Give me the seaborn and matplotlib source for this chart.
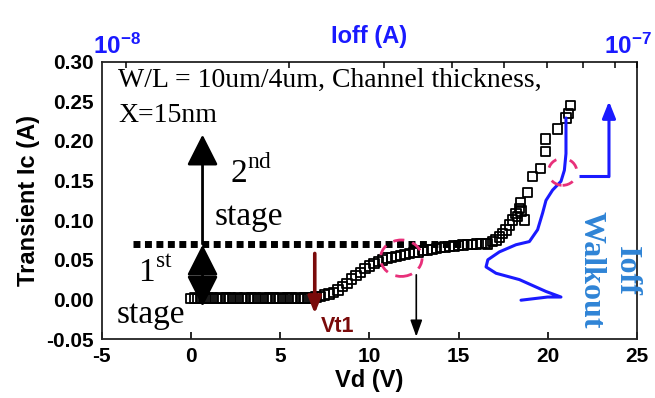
import numpy as np
import pandas as pd
import matplotlib
matplotlib.use("Agg")
import matplotlib.pyplot as plt
import matplotlib.transforms as mtransforms
import seaborn as sns
from matplotlib.patches import Ellipse
from matplotlib.ticker import LogLocator, NullFormatter

# ---------------- data ----------------
vd = [0.0, 0.2, 0.4, 0.6, 0.8, 1.0, 1.2, 1.4, 1.6, 1.8, 2.0, 2.2, 2.4, 2.6, 2.8,
      3.0, 3.2, 3.4, 3.6, 3.8, 4.0, 4.2, 4.4, 4.6, 4.8, 5.0, 5.2, 5.4, 5.6, 5.8,
      6.0, 6.2, 6.4, 6.6, 6.8,
      7.0, 7.25, 7.5, 7.75, 8.0, 8.25, 8.5, 8.75, 9.0, 9.25, 9.5, 9.75,
      10.0, 10.25, 10.5, 10.75, 11.0, 11.25, 11.5, 11.75, 12.0, 12.25, 12.5, 12.75,
      13.0, 13.25, 13.5, 13.75, 14.0, 14.25, 14.5, 14.75, 15.0, 15.25, 15.5, 15.75,
      16.0, 16.25, 16.5,
      16.63, 16.91, 17.1, 17.29, 17.47, 17.66, 17.85, 18.03, 18.22, 18.31, 18.41,
      18.5, 18.69, 18.46, 18.87, 19.15, 19.58, 19.86, 19.86, 20.55, 21.02, 21.17, 21.27]
ic = [0.001, 0.002, 0.001, 0.002, 0.001, 0.002, 0.002, 0.001, 0.002, 0.001, 0.002, 0.002, 0.001, 0.002, 0.001,
      0.002, 0.001, 0.002, 0.002, 0.001, 0.002, 0.001, 0.002, 0.002, 0.001, 0.002, 0.001, 0.002, 0.002, 0.001,
      0.002, 0.001, 0.002, 0.002, 0.002,
      0.003, 0.004, 0.0055, 0.007, 0.009, 0.012, 0.016, 0.020, 0.026, 0.030, 0.034, 0.039,
      0.042, 0.045, 0.048, 0.050, 0.052, 0.053, 0.054, 0.0555, 0.057, 0.058, 0.059, 0.060,
      0.0615, 0.0625, 0.0633, 0.0645, 0.0655, 0.066, 0.0668, 0.0675, 0.068, 0.0685, 0.069, 0.0695,
      0.070, 0.0705, 0.0705,
      0.070, 0.073, 0.075, 0.079, 0.0835, 0.0876, 0.094, 0.100, 0.1087, 0.1044, 0.115,
      0.1116, 0.100, 0.1226, 0.135, 0.155, 0.1655, 0.187, 0.2025, 0.215, 0.229, 0.235, 0.2446]

# hand-drawn Ioff walkout curve (in Vd / Ic data space)
ioff_vd = [18.50, 19.99, 20.74, 19.90, 18.41, 17.10, 16.54, 16.64, 17.29, 18.22, 18.97,
           19.43, 19.71, 19.90, 20.27, 20.74, 20.93, 21.02, 21.02, 21.02]
ioff_ic = [-0.001, 0.003, 0.003, 0.010, 0.025, 0.033, 0.041, 0.050, 0.060, 0.069, 0.073,
           0.088, 0.109, 0.125, 0.138, 0.149, 0.163, 0.184, 0.218, 0.229]

xticks = [-5, 0, 5, 10, 15, 20, 25]
xtick_labels = ["-5", "0", "5", "10", "15", "20", "25"]
yticks = [-0.05, 0.00, 0.05, 0.10, 0.15, 0.20, 0.25, 0.30]
ytick_labels = ["-0.05", "0.00", "0.05", "0.10", "0.15", "0.20", "0.25", "0.30"]
top_xlim = (10 ** -8.045, 10 ** -7.0555)
top_ticks = [1e-8, 10 ** -7.0555]
top_tick_labels = [r"$\mathbf{10^{-8}}$", r"$\mathbf{10^{-7}}$"]

# ---------------- style ----------------
sns.set_theme(style="white")
plt.rcParams["font.family"] = ["Liberation Sans", "DejaVu Sans"]
plt.rcParams["mathtext.fontset"] = "custom"
plt.rcParams["mathtext.rm"] = "Liberation Serif"
plt.rcParams["mathtext.bf"] = "Liberation Sans:bold"
plt.rcParams["axes.unicode_minus"] = False
for k in ["text.color", "axes.labelcolor", "xtick.color", "ytick.color"]:
    plt.rcParams[k] = "black"

BLUE = "#1a1aff"
LBLUE = "#2f84d6"
DRED = "#7a0a0a"
PINK = "#e8307a"
SERIF = ["Liberation Serif", "DejaVu Serif"]

fig = plt.figure(figsize=(6.55, 3.98), dpi=100)
ax = fig.add_axes([0.1553, 0.1482, 0.8172, 0.6967])

df = pd.DataFrame({"Vd": vd, "Ic": ic})
sns.scatterplot(data=df, x="Vd", y="Ic", ax=ax, marker="s", s=46,
                facecolor="none", edgecolor="black", linewidth=1.3, zorder=3)

curve = pd.DataFrame({"Vd": ioff_vd, "Ic": ioff_ic})
sns.lineplot(data=curve, x="Vd", y="Ic", ax=ax, sort=False, estimator=None,
             color=BLUE, lw=2.2, zorder=5)

ax.set_xlim(-5, 25)
ax.set_ylim(-0.05, 0.30)
ax.set_xticks(xticks, xtick_labels)
ax.set_yticks(yticks, ytick_labels)
ax.tick_params(axis="both", direction="in", length=5, width=1.2, pad=6,
               labelsize=15, colors="black")
for lab in ax.get_xticklabels() + ax.get_yticklabels():
    lab.set_fontweight("bold")
ax.set_xlabel("Vd (V)", fontsize=17, fontweight="bold", labelpad=2)
ax.set_ylabel("Transient Ic (A)", fontsize=17, fontweight="bold", labelpad=4)
for sp in ax.spines.values():
    sp.set_linewidth(1.3)
    sp.set_color("#222222")

# top log axis
ax2 = ax.twiny()
ax2.set_xscale("log")
ax2.set_xlim(*top_xlim)
ax2.set_xticks(top_ticks, top_tick_labels)
ax2.xaxis.set_minor_locator(LogLocator(base=10, subs=np.arange(2, 10)))
ax2.xaxis.set_minor_formatter(NullFormatter())
ax2.tick_params(axis="x", which="both", direction="in", length=4, width=1.1,
                labelsize=17.5, labelcolor=BLUE, pad=2)
ax2.set_xlabel("Ioff (A)", fontsize=17, fontweight="bold", color=BLUE, labelpad=-7)
for sp in ax2.spines.values():
    sp.set_visible(False)
# nudge the end labels (10^-7 kept inside the canvas)
lbls = ax2.get_xticklabels()
lbls[-1].set_transform(lbls[-1].get_transform() +
                       mtransforms.ScaledTranslation(-9 / 100, 0, fig.dpi_scale_trans))
lbls[0].set_transform(lbls[0].get_transform() +
                      mtransforms.ScaledTranslation(-9 / 100, 0, fig.dpi_scale_trans))

# dotted stage boundary
ax.plot([-3.24, 15.6], [0.070, 0.070], color="black", lw=5,
        linestyle=(0, (1, 0.65)), zorder=2)

# stage arrows
ax.annotate("", xy=(0.65, 0.208), xytext=(0.65, 0.070),
            arrowprops=dict(arrowstyle="-|>,head_length=0.95,head_width=0.48",
                            color="black", lw=2, shrinkA=0, shrinkB=0,
                            mutation_scale=20), zorder=6)
ax.annotate("", xy=(0.65, -0.009), xytext=(0.65, 0.069),
            arrowprops=dict(arrowstyle="<|-|>,head_length=0.95,head_width=0.48",
                            color="black", lw=2, shrinkA=0, shrinkB=0,
                            mutation_scale=20), zorder=6)

# Vt1 arrow
ax.annotate("", xy=(6.94, -0.018), xytext=(6.94, 0.058),
            arrowprops=dict(arrowstyle="-|>,head_length=0.5,head_width=0.2",
                            color=DRED, lw=2.6, shrinkA=0, shrinkB=0,
                            mutation_scale=20), zorder=6)
ax.text(7.3, -0.034, "Vt1", color=DRED, fontsize=15.5, fontweight="bold",
        ha="left", va="center")

# thin black arrow
ax.annotate("", xy=(12.63, -0.047), xytext=(12.63, 0.031),
            arrowprops=dict(arrowstyle="-|>,head_length=0.5,head_width=0.18",
                            color="black", lw=1.2, shrinkA=0, shrinkB=0,
                            mutation_scale=20), zorder=6)

# blue bent arrow
ax.plot([21.77, 23.43], [0.156, 0.156], color=BLUE, lw=2.2, solid_capstyle="butt")
ax.annotate("", xy=(23.43, 0.250), xytext=(23.43, 0.155),
            arrowprops=dict(arrowstyle="-|>,head_length=0.5,head_width=0.2",
                            color=BLUE, lw=2.2, shrinkA=0, shrinkB=0,
                            mutation_scale=20))

# dashed ellipses
ax.add_patch(Ellipse((20.83, 0.161), 1.6, 0.034, fill=False, edgecolor=PINK,
                     lw=2, linestyle=(0, (4, 5)), zorder=6))
ax.add_patch(Ellipse((11.79, 0.052), 2.33, 0.046, angle=0, fill=False, edgecolor=PINK,
                     lw=2, linestyle=(0, (4, 3)), zorder=6))

# texts
ax.text(-4.09, 0.268, "W/L = 10um/4um, Channel thickness,", family=SERIF,
        fontsize=20, ha="left", va="baseline")
ax.text(-4.09, 0.2245, "X=15nm", family=SERIF, fontsize=20, ha="left", va="baseline")
ax.text(2.18, 0.1466, r"2$^{\mathrm{nd}}$", family=SERIF, fontsize=24,
        ha="left", va="baseline")
ax.text(1.34, 0.094, "stage", family=SERIF, fontsize=24, ha="left", va="baseline")
ax.text(-2.96, 0.0224, r"1$^{\mathrm{st}}$", family=SERIF, fontsize=24,
        ha="left", va="baseline")
ax.text(-4.16, -0.030, "stage", family=SERIF, fontsize=24, ha="left", va="baseline")
ax.text(22.4, 0.037, "Walkout", family=SERIF, fontsize=23, fontweight="bold",
        color=LBLUE, rotation=-90, ha="center", va="center")
ax.text(24.4, 0.036, "Ioff", family=SERIF, fontsize=23, fontweight="bold",
        color=LBLUE, rotation=-90, ha="center", va="center")

fig.savefig("out.png", dpi=100)
